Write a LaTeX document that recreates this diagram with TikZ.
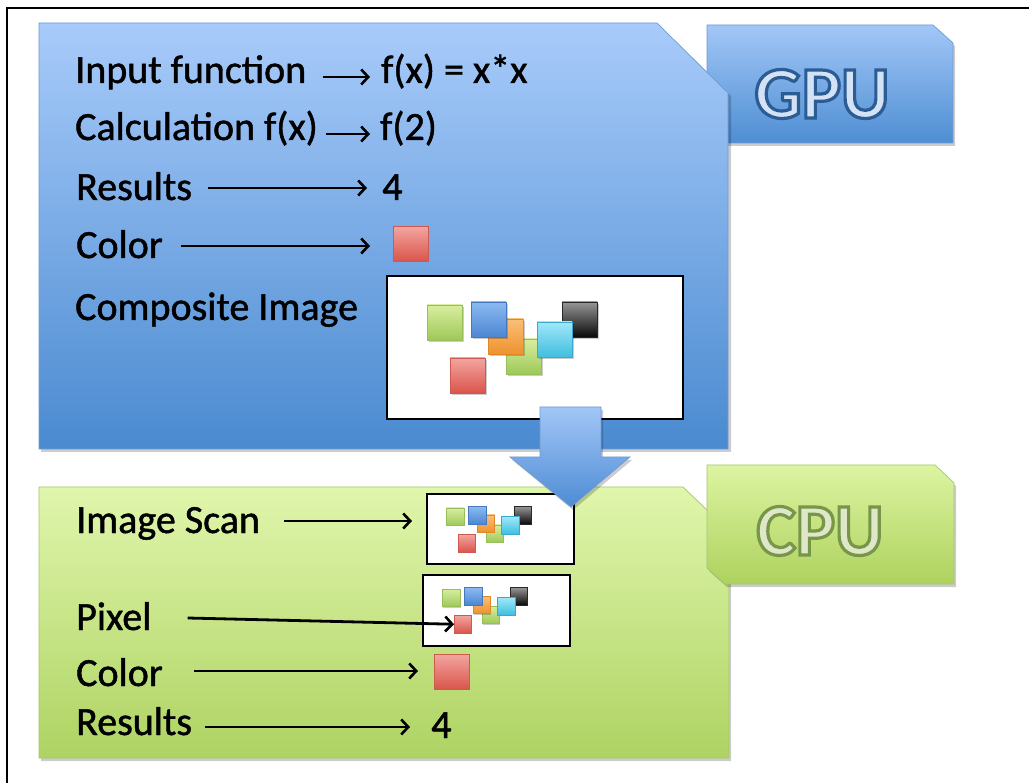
\documentclass[tikz,border=0pt]{standalone}
\usepackage{fontspec}
\setmainfont{Carlito}
\newfontfamily\labfont[FakeBold=1.2]{Carlito}
\newfontfamily\tabfont{Carlito}
\usetikzlibrary{arrows.meta}
\definecolor{gpuT}{RGB}{168,203,250}
\definecolor{gpuB}{RGB}{74,138,208}
\definecolor{gpuE}{RGB}{110,155,212}
\definecolor{tabT}{RGB}{162,199,247}
\definecolor{tabB}{RGB}{78,142,211}
\definecolor{cpuT}{RGB}{224,246,172}
\definecolor{cpuB}{RGB}{174,211,98}
\definecolor{cpuE}{RGB}{160,200,110}
\definecolor{ctabT}{RGB}{221,244,162}
\definecolor{ctabB}{RGB}{174,210,94}
\definecolor{arT}{RGB}{162,198,246}
\definecolor{arB}{RGB}{78,140,212}
\definecolor{grT}{RGB}{216,238,160}
\definecolor{grB}{RGB}{158,200,88}
\definecolor{grE}{RGB}{150,190,90}
\definecolor{blT}{RGB}{140,186,242}
\definecolor{blB}{RGB}{76,134,210}
\definecolor{blE}{RGB}{70,120,190}
\definecolor{orT}{RGB}{250,192,120}
\definecolor{orB}{RGB}{238,146,46}
\definecolor{orE}{RGB}{225,135,40}
\definecolor{cyT}{RGB}{160,232,250}
\definecolor{cyB}{RGB}{64,190,222}
\definecolor{cyE}{RGB}{55,170,205}
\definecolor{bkT}{RGB}{150,150,150}
\definecolor{bkB}{RGB}{10,10,10}
\definecolor{bkE}{RGB}{40,40,40}
\definecolor{rdT}{RGB}{242,165,160}
\definecolor{rdB}{RGB}{218,85,75}
\definecolor{rdE}{RGB}{205,90,80}
\definecolor{gpuFill}{RGB}{212,226,246}
\definecolor{cpuFill}{RGB}{222,232,200}
% outlined text: stroke+fill render mode (stroke colour given as PDF operands)
\newcommand{\outlinetext}[2]{\special{pdf:code 2 Tr 3.2 w #1 RG}#2\special{pdf:code 0 Tr 0.4 w}}
\tikzset{
  lab/.style={anchor=base west, inner sep=0pt, font=\labfont\fontsize{40}{48}\selectfont},
  arr/.style={line width=2.8pt, -{Straight Barb[length=7pt,width=15pt,line width=2.6pt]}},
  sq/.style={top color=#1T, bottom color=#1B, draw=#1E, line width=0.6pt},
  shad/.style={fill=black, opacity=0.2},
  imgbox/.style={draw=black, line width=2pt, fill=white, anchor=north west, inner sep=0pt},
  swatch/.style={sq=rd, anchor=north west, minimum size=35pt, inner sep=0pt},
  tabtext/.style={anchor=base, inner sep=0pt, font=\tabfont\bfseries\fontsize{74}{80}\selectfont},
  pics/mosaic/.style={code={
    \fill[shad] (121.5,66) rectangle ++(35,35);
    \path[sq=gr] (120,64) rectangle ++(35,35);
    \fill[shad] (103.5,46) rectangle ++(35,35);
    \path[sq=or] (102,44) rectangle ++(35,35);
    \fill[shad] (86.5,29) rectangle ++(35,35);
    \path[sq=bl] (85,27) rectangle ++(35,35);
    \fill[shad] (177.5,29) rectangle ++(35,35);
    \path[sq=bk] (176,27) rectangle ++(35,35);
    \fill[shad] (152.5,49) rectangle ++(35,35);
    \path[sq=cy] (151,47) rectangle ++(35,35);
    \fill[shad] (42.5,32) rectangle ++(35,35);
    \path[sq=gr] (41,30) rectangle ++(35,35);
    \fill[shad] (65.5,85) rectangle ++(35,35);
    \path[sq=rd] (64,83) rectangle ++(35,35);
    \coordinate (-red) at (64,100.5);
  }}
}
\begin{document}
\begin{tikzpicture}[x=1pt,y=-1pt]
\useasboundingbox (0,0) rectangle (1029,783);
\fill[white] (0,0) rectangle (1029,783);
% frame
\draw[line width=1.5pt] (7,783) -- (7,8) -- (1029,8);

% GPU tab
\fill[shad] (709,28) -- (935,28) -- (955,46) -- (955,146) -- (709,146) -- cycle;
\path[top color=tabT, bottom color=tabB, draw=gpuE, line width=0.7pt]
  (707,25) -- (933,25) -- (953,43) -- (953,143) -- (707,143) -- cycle;
\node[tabtext, text=gpuFill] (gput) at (822,118) {\outlinetext{0.17 0.36 0.58}{GPU}};

% GPU box
\fill[shad] (41,26) -- (659,26) -- (731,96) -- (731,452) -- (41,452) -- cycle;
\path[top color=gpuT, bottom color=gpuB, draw=gpuE, line width=0.7pt]
  (39,23) -- (657,23) -- (728,93) -- (728,449) -- (39,449) -- cycle;

% CPU box
\fill[shad] (41,490) -- (685,490) -- (731,534) -- (731,761) -- (41,761) -- cycle;
\path[top color=cpuT, bottom color=cpuB, draw=cpuE, line width=0.7pt]
  (39,487) -- (683,487) -- (729,531) -- (729,758) -- (39,758) -- cycle;

% CPU tab
\fill[shad] (709,468) -- (937,468) -- (956,486) -- (956,587) -- (727,587) -- (709,571) -- cycle;
\path[top color=ctabT, bottom color=ctabB, draw=cpuE, line width=0.7pt]
  (707,465) -- (935,465) -- (954,483) -- (954,584) -- (725,584) -- (707,568) -- cycle;
\node[tabtext, text=cpuFill] (cput) at (820,555) {\outlinetext{0.47 0.59 0.29}{CPU}};

% GPU content
\node[lab] (g1) at (75,83) {Input function};
\node[lab] (g1r) at (381,83) {f(x) = x*x};
\node[lab] (g2) at (75,140) {Calculation f(x)};
\node[lab] (g2r) at (380,140) {f(2)};
\node[lab] (g3) at (76,200) {Results};
\node[lab] (g3r) at (382,200) {4};
\node[lab] (g4) at (76,258) {Color};
\node[swatch] (g4r) at (393,226) {};
\node[lab] (g5) at (75,320) {Composite Image};
\node[imgbox, minimum width=296pt, minimum height=143pt] (comp) at (386,275) {};
\pic (compm) at (386,275) {mosaic};

\coordinate (a1) at ([xshift=16pt,yshift=6pt]g1.base east);
\draw[arr, shorten >=11pt] (a1) -- (a1 -| g1r.west);
\coordinate (a2) at ([xshift=8pt,yshift=6pt]g2.base east);
\draw[arr, shorten >=10pt] (a2) -- (a2 -| g2r.west);
\coordinate (a3) at ([xshift=16pt,yshift=12pt]g3.base east);
\draw[arr, shorten >=15pt] (a3) -- (a3 -| g3r.west);
\coordinate (a4) at ([xshift=18pt,yshift=12pt]g4.base east);
\draw[arr, shorten >=23pt] (a4) -- (a4 -| g4r.west);

% CPU content
\node[lab] (c1) at (76,533) {Image Scan};
\node[imgbox, minimum width=147pt, minimum height=70pt] (scan) at (426,493) {};
\pic[scale=0.5] (scanm) at (426,493) {mosaic};
\node[lab] (c2) at (76,630) {Pixel};
\node[imgbox, minimum width=147pt, minimum height=71pt] (pixbox) at (422,574) {};
\pic[scale=0.5] (pixm) at (422,574) {mosaic};
\node[lab] (c3) at (76,686) {Color};
\node[swatch] (c3r) at (434,654) {};
\node[lab] (c4) at (76,735) {Results};
\node[lab] (c4r) at (431,738) {4};

\coordinate (b1) at ([xshift=24pt,yshift=12pt]c1.base east);
\draw[arr, shorten >=14pt] (b1) -- (b1 -| scan.west);
\coordinate (b2) at ([xshift=36pt,yshift=12pt]c2.base east);
\draw[arr] (b2) -- (pixm-red);
\coordinate (b3) at ([xshift=31pt,yshift=15pt]c3.base east);
\draw[arr, shorten >=16pt] (b3) -- (b3 -| c3r.west);
\coordinate (b4) at ([xshift=13pt,yshift=8pt]c4.base east);
\draw[arr, shorten >=21pt] (b4) -- (b4 -| c4r.west);

% block arrow GPU -> CPU
\fill[shad] (542,410) -- (603,410) -- (603,460) -- (632,460) -- (573,510) -- (512,460) -- (542,460) -- cycle;
\path[top color=arT, bottom color=arB, draw=gpuE, line width=0.6pt]
  (540,407) -- (601,407) -- (601,457) -- (630,457) -- (571,507) -- (510,457) -- (540,457) -- cycle;
\end{tikzpicture}
\end{document}
